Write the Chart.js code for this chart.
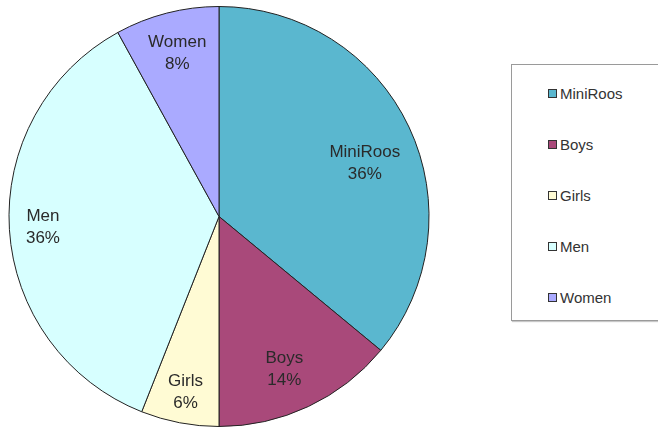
<!DOCTYPE html>
<html>
<head>
<meta charset="utf-8">
<script src="https://cdn.jsdelivr.net/npm/chart.js@4.4.0/dist/chart.umd.min.js"></script>
<style>
  body { margin: 0; background: #fff; width: 658px; height: 427px; overflow: hidden; position: relative; font-family: "Liberation Sans", Arial, sans-serif; }
  #pie { position: absolute; left: 0; top: 0; }
  #legend { position: absolute; left: 511px; top: 64px; width: 150px; height: 257px; border: 1px solid #9a9a9a; box-shadow: 1px 1px 1px #c8c8c8; background: #fff; box-sizing: border-box; }
  #legend .item { position: absolute; left: 36px; height: 16px; line-height: 16px; font-size: 15px; color: #333; white-space: nowrap; }
  #legend .swatch { display: inline-block; width: 7px; height: 7px; border: 1px solid #333; margin-right: 3px; vertical-align: 1px; }
</style>
</head>
<body>
<canvas id="pie" width="440" height="427"></canvas>
<div id="legend"></div>
<script>
const categories = ["MiniRoos", "Boys", "Girls", "Men", "Women"];
const shares = [36, 14, 6, 36, 8];
const sliceColors = ["#5ab7cf", "#a9497a", "#fffbd4", "#d7ffff", "#aaaaff"];

// where each label sits inside its slice (fraction of radius, angle nudge in degrees)
const labelSpots = [
  { r: 0.74, nudge: 5 },
  { r: 0.79, nudge: 2 },
  { r: 0.85, nudge: 0 },
  { r: 0.84, nudge: 0 },
  { r: 0.80, nudge: 0 }
];

const sliceLabels = {
  id: "sliceLabels",
  afterDatasetsDraw(chart) {
    const { ctx } = chart;
    const meta = chart.getDatasetMeta(0);
    ctx.save();
    ctx.font = "17px 'Liberation Sans', Arial, sans-serif";
    ctx.fillStyle = "#2a2a2a";
    ctx.textAlign = "center";
    ctx.textBaseline = "middle";
    meta.data.forEach((arc, i) => {
      const { x, y, startAngle, endAngle, outerRadius } = arc.getProps(["x", "y", "startAngle", "endAngle", "outerRadius"], true);
      const spot = labelSpots[i];
      const mid = (startAngle + endAngle) / 2 + spot.nudge * Math.PI / 180;
      const r = outerRadius * spot.r;
      const px = x + Math.cos(mid) * r;
      const py = y + Math.sin(mid) * r;
      ctx.fillText(categories[i], px, py - 11);
      ctx.fillText(shares[i] + "%", px, py + 11);
    });
    ctx.restore();
  }
};

const chart = new Chart(document.getElementById("pie"), {
  type: "pie",
  data: {
    labels: categories,
    datasets: [{
      data: shares,
      backgroundColor: sliceColors,
      borderColor: "#222",
      borderWidth: 1
    }]
  },
  options: {
    responsive: false,
    animation: false,
    layout: { padding: { top: 6, bottom: 0, left: 0, right: 2 } },
    plugins: {
      legend: { display: false },
      tooltip: { enabled: false }
    }
  },
  plugins: [sliceLabels]
});

// legend built from the chart's own items
const legendBox = document.getElementById("legend");
chart.options.plugins.legend.labels.generateLabels(chart).forEach((item, i) => {
  const row = document.createElement("div");
  row.className = "item";
  row.style.top = (21 + i * 51) + "px";
  const sw = document.createElement("span");
  sw.className = "swatch";
  sw.style.background = item.fillStyle;
  row.appendChild(sw);
  row.appendChild(document.createTextNode(item.text));
  legendBox.appendChild(row);
});
</script>
</body>
</html>
